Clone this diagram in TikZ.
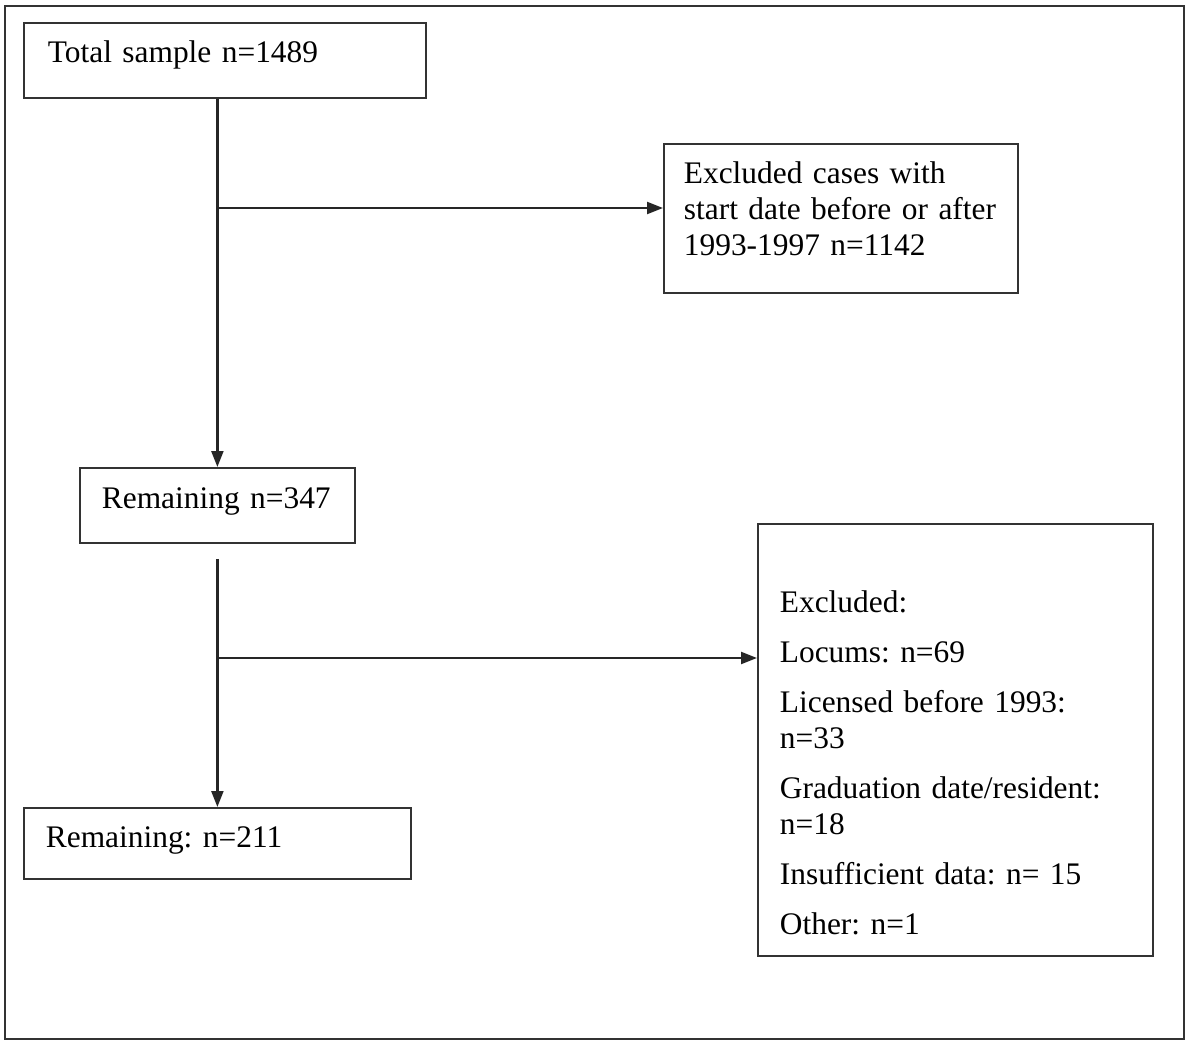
\documentclass[tikz,border=0pt]{standalone}
\usepackage{fontspec}
\setmainfont{Liberation Serif}
\frenchspacing
\hyphenpenalty=10000
\usepackage{tikz}
\usetikzlibrary{arrows.meta}

\begin{document}
\begin{tikzpicture}[
    x=0.5pt, y=-0.5pt,
    box/.style={
        draw=black!80,
        line width=0.9pt,
        anchor=north west,
        align=left,
        inner ysep=0pt,
        font=\fontsize{15.7}{18}\selectfont
    },
    flow/.style={
        -{Triangle[length=8pt,width=6pt]},
        line width=1.1pt,
        draw=black!85
    }
]

\useasboundingbox (0,0) rectangle (1187,1043);

%---------------------------------------------------------------------
% Frame
%---------------------------------------------------------------------

\draw[black!80, line width=1pt] (5,6) rectangle (1184,1039);

%---------------------------------------------------------------------
% Main column
%---------------------------------------------------------------------

\node[box, inner xsep=12pt, text width=177pt,
    text height=20pt, text depth=17.5pt] (total) at (23,22) {
    Total sample n=1489
};

\node[box, inner xsep=11pt, text width=115.5pt,
    text height=20.5pt, text depth=17pt] (rem1) at (79,467) {
    Remaining n=347
};

\node[box, inner xsep=11pt, text width=171.5pt,
    text height=20pt, text depth=15.5pt] (rem2) at (23,807) {
    Remaining: n=211
};

%---------------------------------------------------------------------
% Exclusions
%---------------------------------------------------------------------

\node[box, inner xsep=10pt, text width=157pt,
    text height=20pt, text depth=54.5pt] (excl1) at (663,143) {
    Excluded cases with\\
    start date before or after\\
    1993-1997 n=1142
};

\node[box, inner xsep=11pt, text width=175.5pt,
    text height=44.5pt, text depth=171.5pt] (excl2) at (757,523) {
    Excluded:\\[7pt]
    Locums: n=69\\[7pt]
    Licensed before 1993:\\
    n=33\\[7pt]
    Graduation date/resident:\\
    n=18\\[7pt]
    Insufficient data: n= 15\\[7pt]
    Other: n=1
};

%---------------------------------------------------------------------
% Flow
%---------------------------------------------------------------------

\coordinate (split1) at (rem1.north |- 0,208);
\coordinate (gap) at ([yshift=-7.5pt]rem1.south);
\coordinate (split2) at (gap |- 0,658);

\draw[flow] (rem1.north |- total.south) -- (rem1.north);
\draw[flow] (split1) -- (split1 -| excl1.west);
\draw[flow] (gap) -- (gap |- rem2.north);
\draw[flow] (split2) -- (split2 -| excl2.west);

\end{tikzpicture}
\end{document}
